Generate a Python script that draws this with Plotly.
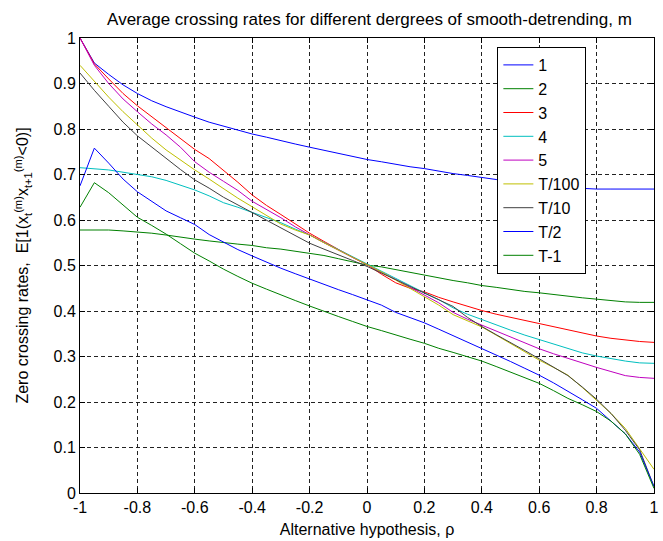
import plotly.graph_objects as go

rho = [-1.00, -0.95, -0.90, -0.85, -0.80, -0.75, -0.70, -0.65, -0.60, -0.55,
       -0.50, -0.45, -0.40, -0.35, -0.30, -0.25, -0.20, -0.15, -0.10, -0.05,
       0.00, 0.05, 0.10, 0.15, 0.20, 0.25, 0.30, 0.35, 0.40, 0.45,
       0.50, 0.55, 0.60, 0.65, 0.70, 0.75, 0.80, 0.85, 0.90, 0.95, 1.00]

m_1 = [1.000, 0.945, 0.920, 0.897, 0.878, 0.862, 0.849, 0.837, 0.826, 0.815,
       0.806, 0.797, 0.789, 0.782, 0.774, 0.767, 0.760, 0.753, 0.746, 0.739,
       0.733, 0.728, 0.722, 0.717, 0.713, 0.707, 0.702, 0.698, 0.694, 0.689,
       0.684, 0.680, 0.676, 0.673, 0.671, 0.669, 0.668, 0.668, 0.668, 0.668, 0.668]

m_2 = [0.578, 0.578, 0.578, 0.576, 0.574, 0.571, 0.567, 0.562, 0.558, 0.554,
       0.550, 0.547, 0.544, 0.539, 0.536, 0.531, 0.527, 0.522, 0.515, 0.508,
       0.501, 0.497, 0.491, 0.485, 0.478, 0.472, 0.467, 0.462, 0.456, 0.452,
       0.447, 0.443, 0.440, 0.436, 0.432, 0.429, 0.426, 0.423, 0.420, 0.419, 0.419]

m_3 = [1.000, 0.943, 0.910, 0.878, 0.851, 0.827, 0.805, 0.780, 0.755, 0.735,
       0.710, 0.683, 0.655, 0.632, 0.612, 0.591, 0.571, 0.553, 0.535, 0.518,
       0.502, 0.481, 0.462, 0.450, 0.442, 0.430, 0.420, 0.410, 0.401, 0.393,
       0.386, 0.379, 0.372, 0.365, 0.358, 0.351, 0.345, 0.340, 0.336, 0.333, 0.331]

m_4 = [0.715, 0.713, 0.710, 0.705, 0.700, 0.695, 0.687, 0.677, 0.666, 0.653,
       0.638, 0.628, 0.617, 0.605, 0.594, 0.580, 0.567, 0.551, 0.535, 0.519,
       0.503, 0.487, 0.471, 0.455, 0.440, 0.425, 0.407, 0.393, 0.381, 0.370,
       0.358, 0.347, 0.337, 0.327, 0.317, 0.308, 0.301, 0.295, 0.290, 0.286, 0.285]

m_5 = [1.000, 0.940, 0.900, 0.866, 0.838, 0.811, 0.787, 0.760, 0.728, 0.705,
       0.685, 0.665, 0.641, 0.623, 0.605, 0.585, 0.567, 0.550, 0.534, 0.518,
       0.502, 0.486, 0.469, 0.452, 0.435, 0.418, 0.397, 0.382, 0.369, 0.356,
       0.343, 0.330, 0.317, 0.306, 0.296, 0.285, 0.276, 0.267, 0.258, 0.254, 0.252]

m_T100 = [0.940, 0.905, 0.870, 0.838, 0.809, 0.780, 0.754, 0.731, 0.710, 0.690,
          0.668, 0.648, 0.629, 0.610, 0.591, 0.578, 0.567, 0.550, 0.534, 0.518,
          0.502, 0.486, 0.468, 0.450, 0.432, 0.413, 0.392, 0.378, 0.365, 0.347,
          0.329, 0.311, 0.292, 0.276, 0.259, 0.232, 0.204, 0.175, 0.142, 0.098, 0.052]

m_T10 = [0.923, 0.885, 0.850, 0.815, 0.785, 0.760, 0.736, 0.711, 0.688, 0.670,
         0.650, 0.633, 0.616, 0.600, 0.583, 0.566, 0.549, 0.536, 0.524, 0.511,
         0.498, 0.484, 0.469, 0.454, 0.439, 0.425, 0.410, 0.386, 0.366, 0.348,
         0.331, 0.313, 0.295, 0.277, 0.258, 0.233, 0.206, 0.175, 0.138, 0.095, 0.014]

m_T2 = [0.675, 0.758, 0.725, 0.690, 0.662, 0.640, 0.620, 0.605, 0.590, 0.568,
        0.552, 0.535, 0.521, 0.507, 0.494, 0.482, 0.470, 0.458, 0.447, 0.436,
        0.425, 0.413, 0.397, 0.386, 0.374, 0.360, 0.346, 0.332, 0.318, 0.303,
        0.289, 0.274, 0.259, 0.242, 0.224, 0.205, 0.186, 0.158, 0.130, 0.090, 0.014]

m_Tm1 = [0.628, 0.682, 0.660, 0.632, 0.606, 0.588, 0.569, 0.548, 0.527, 0.510,
         0.492, 0.476, 0.461, 0.448, 0.435, 0.423, 0.411, 0.399, 0.388, 0.377,
         0.366, 0.357, 0.347, 0.338, 0.329, 0.318, 0.309, 0.300, 0.290, 0.278,
         0.266, 0.254, 0.241, 0.225, 0.208, 0.194, 0.179, 0.158, 0.130, 0.085, 0.010]

series_names = ["1", "2", "3", "4", "5", "T/100", "T/10", "T/2", "T-1"]
series_values = [m_1, m_2, m_3, m_4, m_5, m_T100, m_T10, m_T2, m_Tm1]
series_colors = ["#0000FF", "#008000", "#FF0000", "#00BFBF", "#BF00BF",
                 "#BFBF00", "#404040", "#0000FF", "#008000"]

x_tickvals = [-1, -0.8, -0.6, -0.4, -0.2, 0, 0.2, 0.4, 0.6, 0.8, 1]
x_ticktext = ["-1", "-0.8", "-0.6", "-0.4", "-0.2", "0", "0.2", "0.4", "0.6", "0.8", "1"]
y_tickvals = [0, 0.1, 0.2, 0.3, 0.4, 0.5, 0.6, 0.7, 0.8, 0.9, 1]
y_ticktext = ["0", "0.1", "0.2", "0.3", "0.4", "0.5", "0.6", "0.7", "0.8", "0.9", "1"]

FONT = "Liberation Sans, Arial, sans-serif"

fig = go.Figure()
for name, vals, col in zip(series_names, series_values, series_colors):
    fig.add_trace(go.Scatter(x=rho, y=vals, mode="lines", name=name,
                             line=dict(color=col, width=1)))

axis_common = dict(
    showline=True, linecolor="black", linewidth=1, mirror="ticks",
    ticks="inside", ticklen=5, tickcolor="black",
    showgrid=True, gridcolor="#222222", gridwidth=1, griddash="4px,3px",
    zeroline=False, tickfont=dict(family=FONT, size=16, color="black"),
    ticklabeloverflow="allow",
)

fig.update_xaxes(range=[-1, 1], tickmode="array", tickvals=x_tickvals,
                 ticktext=x_ticktext,
                 title=dict(text="Alternative hypothesis, ρ",
                            font=dict(family=FONT, size=16, color="black"),
                            standoff=8),
                 **axis_common)
fig.update_yaxes(range=[0, 1], tickmode="array", tickvals=y_tickvals,
                 ticktext=y_ticktext,
                 title=dict(text="Zero crossing rates,  E[1(x<sub>t</sub><sup>(m)</sup>x<sub>t+1</sub><sup>(m)</sup>&lt;0)]",
                            font=dict(family=FONT, size=16, color="black"),
                            standoff=20),
                 **axis_common)

fig.update_layout(
    width=663, height=541,
    margin=dict(l=80, r=4, t=38, b=48),
    paper_bgcolor="white", plot_bgcolor="white",
    title=dict(text="Average crossing rates for different dergrees of smooth-detrending, m",
               x=0.5 + (80 - 4) / 2 / 663, xanchor="center",
               y=1 - 19 / 541, yanchor="middle", yref="container",
               font=dict(family=FONT, size=17, color="black")),
    legend=dict(x=(501 - 80) / 579, y=(493 - 47) / 455, xanchor="left", yanchor="top",
                bgcolor="white", bordercolor="black", borderwidth=1,
                font=dict(family=FONT, size=16, color="black"),
                entrywidth=70, tracegroupgap=0),
    showlegend=True,
)

fig.write_html("out.html",
               config={"displayModeBar": False},
               post_script="document.body.style.margin='0';document.body.style.overflow='hidden';")
